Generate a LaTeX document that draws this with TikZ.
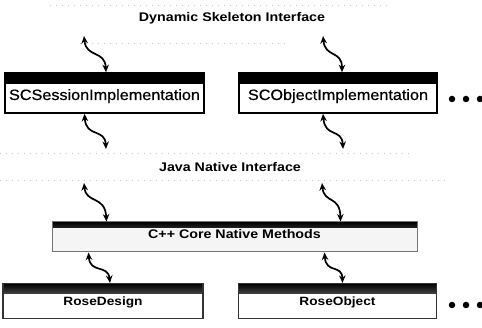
\documentclass[tikz,border=0pt]{standalone}
\usepackage{fontspec}
\setmainfont{Liberation Sans}
\newfontfamily\boxfont[FakeStretch=1.08, FakeBold=0.6]{Liberation Sans}
\newfontfamily\lblfont[FakeStretch=1.14]{Liberation Sans}
\usetikzlibrary{arrows.meta}
\tikzset{
  layerlabel/.style={font=\lblfont\bfseries\fontsize{12.5}{14}\selectfont, inner sep=0pt},
  implbox/.style={draw=black, line width=1.6pt, fill=white, inner xsep=0pt, inner ysep=0pt,
    minimum width=#1, text height=27pt, text depth=13pt,
    font=\boxfont\fontsize{15}{17}\selectfont,
    path picture={\fill[black] (path picture bounding box.north west) rectangle
      ([yshift=-11pt]path picture bounding box.north east);}},
  corebox/.style={draw=black!55, line width=1pt, fill=black!4, inner xsep=0pt, inner ysep=0pt,
    minimum width=#1, text height=17pt, text depth=13pt,
    font=\lblfont\bfseries\fontsize{12.5}{14}\selectfont,
    path picture={\shade[top color=black, bottom color=black!30]
      (path picture bounding box.north west) rectangle
      ([yshift=-6pt]path picture bounding box.north east);}},
  rosebox/.style={draw=black!80, line width=1.2pt, fill=white, inner xsep=0pt, inner ysep=0pt,
    minimum width=#1, text height=22pt, text depth=13pt,
    font=\lblfont\bfseries\fontsize{12}{13}\selectfont,
    path picture={\shade[top color=black, bottom color=black!10]
      (path picture bounding box.north west) rectangle
      ([yshift=-10pt]path picture bounding box.north east);}},
  squiggle/.style={{Stealth[length=7.5pt,width=6.5pt]}-{Stealth[length=7.5pt,width=6.5pt]}, line width=1.7pt},
  faint/.style={black!22, line width=0.8pt, dash pattern=on 1pt off 5pt},
  moredots/.style={circle, fill=black, inner sep=0pt, minimum size=6.5pt},
}
\begin{document}
\begin{tikzpicture}[x=1pt,y=-1pt]
  \useasboundingbox (0,0) rectangle (482,328);

  % faded layer boundaries
  \draw[faint] (50,5) -- (390,5);
  \draw[faint] (80,43) -- (290,43);
  \draw[faint] (0,153) -- (410,153);
  \draw[faint] (0,180) -- (450,180);

  % layer labels
  \node[layerlabel] (dsi) at (232,18) {Dynamic Skeleton Interface};
  \node[layerlabel] (jni) at (230,167) {Java Native Interface};

  % implementation classes
  \node[implbox=199pt] (sess) at (104.5,93) {SCSessionImplementation};
  \node[implbox=198pt] (obj) at (338,93) {SCObjectImplementation};
  \node[moredots] (d1) at (452,99) {};
  \node[moredots] (d2) at (466,99) {};
  \node[moredots] (d3) at (480,99) {};

  % native core
  \node[corebox=365pt] (core) at (234.5,237) {C++ Core Native Methods};

  % Rose classes
  \node[rosebox=200pt] (design) at (103,301) {RoseDesign};
  \node[rosebox=198pt] (robj) at (337.5,301) {RoseObject};
  \node[moredots] (e1) at (452,305) {};
  \node[moredots] (e2) at (466,305) {};
  \node[moredots] (e3) at (480,305) {};

  % connector ends near the interface labels
  \coordinate (s1) at (84,36);
  \coordinate (s2) at (323,36);
  \coordinate (t1) at (106,149);
  \coordinate (t2) at (343,149);
  \coordinate (u1) at (84,183);
  \coordinate (u2) at (322,183);

  % squiggly double arrows
  \draw[squiggle] (s1) .. controls (86,58) and (105,50) .. ([xshift=1.5pt]sess.north);
  \draw[squiggle] (s2) .. controls (325,58) and (342,50) .. ([xshift=4pt]obj.north);
  \draw[squiggle] ([xshift=-20pt]sess.south) .. controls (86,138) and (105,128) .. (t1);
  \draw[squiggle] ([xshift=-15pt]obj.south) .. controls (325,138) and (342,128) .. (t2);
  \draw[squiggle] (u1) .. controls (86,204) and (105,195) .. ([xshift=-128pt]core.north);
  \draw[squiggle] (u2) .. controls (324,204) and (340,195) .. ([xshift=106pt]core.north);
  \draw[squiggle] ([xshift=-146pt]core.south) .. controls (90,274) and (108,264) .. ([xshift=7pt]design.north);
  \draw[squiggle] ([xshift=90pt]core.south) .. controls (326,274) and (342,264) .. ([xshift=5pt]robj.north);
\end{tikzpicture}
\end{document}
